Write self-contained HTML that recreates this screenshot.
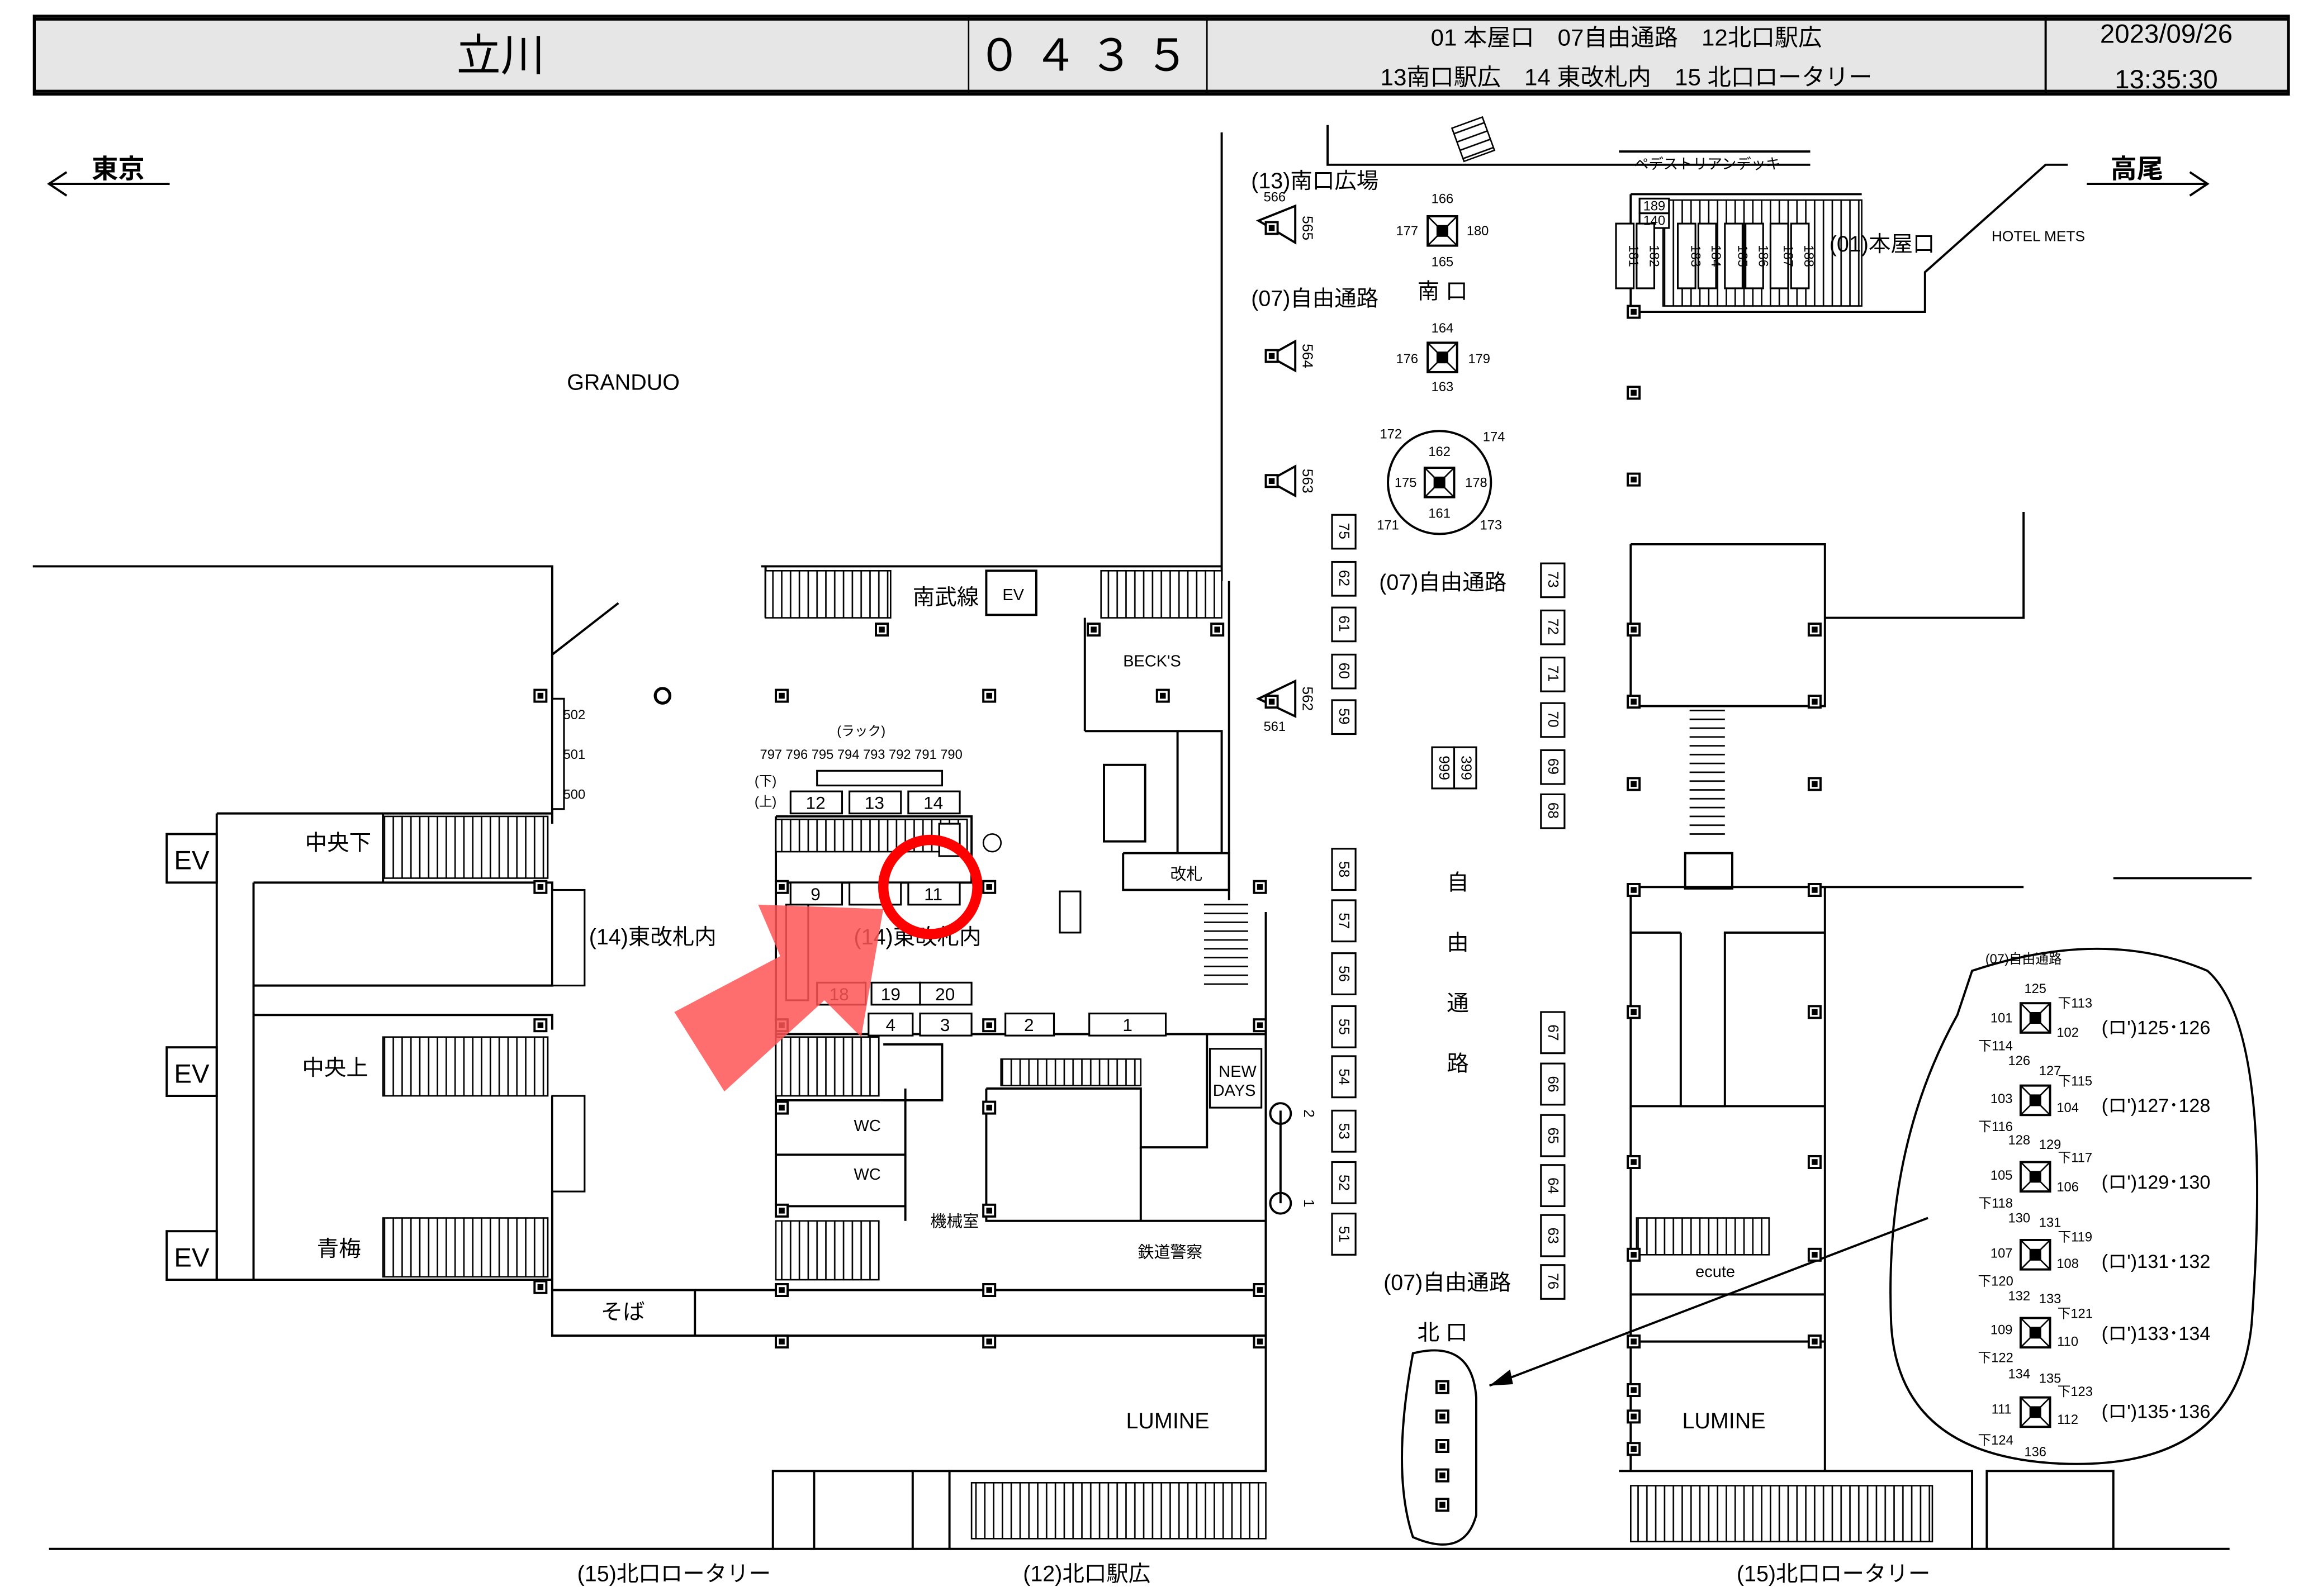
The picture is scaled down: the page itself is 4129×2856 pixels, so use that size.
<!DOCTYPE html>
<html><head><meta charset="utf-8">
<style>
html,body{margin:0;padding:0;background:#fff;}
svg{display:block;}
text{font-family:"Liberation Sans","Noto Sans CJK JP",sans-serif;fill:#000;}
</style></head>
<body>
<svg width="4129" height="2856" viewBox="0 0 1568 1085" xmlns="http://www.w3.org/2000/svg">
<defs>
<pattern id="st" width="6" height="10" patternUnits="userSpaceOnUse"><rect width="6" height="10" fill="#fff"/><line x1="3" y1="0" x2="3" y2="10" stroke="#000" stroke-width="1"/></pattern>
<pattern id="sth" width="10" height="6" patternUnits="userSpaceOnUse"><rect width="10" height="6" fill="#fff"/><line x1="0" y1="3" x2="10" y2="3" stroke="#000" stroke-width="1"/></pattern>
<g id="sq"><rect x="-4" y="-4" width="8" height="8" fill="#fff" stroke="#000" stroke-width="1.5"/><rect x="-2" y="-2" width="4" height="4" fill="#000"/></g>
<g id="gate"><rect x="-10" y="-10" width="20" height="20" fill="#fff" stroke="#000" stroke-width="1.5"/><line x1="-10" y1="-10" x2="10" y2="10" stroke="#000"/><line x1="10" y1="-10" x2="-10" y2="10" stroke="#000"/><rect x="-4" y="-4" width="8" height="8" fill="#000"/></g>
</defs>
<rect width="1568" height="1085" fill="#fff"/>
<!-- header -->
<rect x="23" y="11" width="1532" height="53" fill="#e6e6e6" stroke="#000" stroke-width="2"/>
<line x1="23" y1="13" x2="1555" y2="13" stroke="#000" stroke-width="2"/>
<line x1="23" y1="62" x2="1555" y2="62" stroke="#000" stroke-width="2"/>
<line x1="658" y1="11" x2="658" y2="64" stroke="#000"/>
<line x1="820" y1="11" x2="820" y2="64" stroke="#000"/>
<line x1="1390" y1="11" x2="1390" y2="64" stroke="#000" stroke-width="1.5"/>
<text x="340" y="48" font-size="30" text-anchor="middle">立川</text>
<text x="740" y="48" font-size="30" text-anchor="middle" letter-spacing="8">０４３５</text>
<text x="1105" y="31" font-size="16" text-anchor="middle">01 本屋口　07自由通路　12北口駅広</text>
<text x="1105" y="58" font-size="16" text-anchor="middle">13南口駅広　14 東改札内　15 北口ロータリー</text>
<text x="1472" y="29" font-size="18" text-anchor="middle">2023/09/26</text>
<text x="1472" y="60" font-size="18" text-anchor="middle">13:35:30</text>

<!-- direction arrows -->
<g stroke="#000" stroke-width="1.5" fill="none">
<line x1="33" y1="125" x2="115" y2="125"/><polyline points="45,117 33,125 45,133"/>
<line x1="1418" y1="125" x2="1500" y2="125"/><polyline points="1488,117 1500,125 1488,133"/>
</g>
<text x="80" y="121" font-size="18" text-anchor="middle" font-weight="bold">東京</text>
<text x="1452" y="121" font-size="18" text-anchor="middle" font-weight="bold">高尾</text>

<g stroke="#000" stroke-width="1.5" fill="none">
<polyline points="902,85 902,112 1230,112"/>
<line x1="1100" y1="103" x2="1230" y2="103"/>
<line x1="830" y1="90" x2="830" y2="395"/>
<line x1="835" y1="395" x2="835" y2="620"/>
<polyline points="1108,132 1265,132"/><polyline points="1108,212 1308,212 1308,185 1390,112 1405,112"/>
<line x1="1108" y1="132" x2="1108" y2="212"/>
<polyline points="1108,370 1240,370 1240,480 1108,480 1108,370"/>
<polyline points="1375,348 1375,420 1240,420"/>
<polyline points="1108,603 1240,603 1240,1000"/>
<polyline points="1108,603 1108,1000"/>
<line x1="1240" y1="603" x2="1375" y2="603"/>
<line x1="1436" y1="597" x2="1530" y2="597"/>
<line x1="1108" y1="634" x2="1142" y2="634"/>
<polyline points="1142,634 1142,752 1172,752 1172,634 1240,634"/>
<line x1="1108" y1="752" x2="1240" y2="752"/>
<line x1="1108" y1="912" x2="1240" y2="912"/>
<line x1="1108" y1="880" x2="1240" y2="880"/>
<rect x="1145" y="580" width="32" height="24"/>
<polyline points="22,385 375,385 375,445 420,410"/>
<line x1="375" y1="445" x2="375" y2="560"/>
<polyline points="260,553 375,553"/>
<polyline points="260,553 260,600"/>
<polyline points="147,553 147,870"/>
<polyline points="172,600 172,690"/>
<polyline points="172,600 375,600 375,670 172,670"/>
<polyline points="172,690 375,690 375,700"/>
<polyline points="147,553 260,553"/>
<polyline points="172,870 375,870 375,908 860,908 860,690"/>
<polyline points="172,690 172,870"/>
<line x1="147" y1="870" x2="172" y2="870"/>
<rect x="113" y="567" width="34" height="33"/>
<rect x="113" y="712" width="34" height="33"/>
<rect x="113" y="837" width="34" height="33"/>
<line x1="375" y1="745" x2="375" y2="870"/>
<line x1="472" y1="877" x2="472" y2="908"/>
<line x1="375" y1="877" x2="860" y2="877"/>
<polyline points="517,385 830,385"/>
<line x1="520" y1="385" x2="520" y2="420"/>
<line x1="737" y1="420" x2="737" y2="497"/>
<polyline points="737,497 830,497 830,580"/>
<polyline points="763,580 835,580 835,605 763,605 763,580"/>
<line x1="800" y1="497" x2="800" y2="580"/>
<rect x="750" y="520" width="28" height="52"/>
<rect x="670" y="388" width="34" height="30"/>
<polyline points="527,555 660,555 660,600"/>
<line x1="527" y1="600" x2="670" y2="600"/>
<line x1="527" y1="555" x2="527" y2="820"/>
<line x1="527" y1="703" x2="860" y2="703"/>
<line x1="527" y1="748" x2="615" y2="748"/>
<line x1="527" y1="785" x2="615" y2="785"/>
<line x1="527" y1="820" x2="615" y2="820"/>
<line x1="615" y1="740" x2="615" y2="830"/>
<polyline points="600,710 640,710 640,748 600,748"/>
<polyline points="670,740 775,740 775,780 820,780 820,703"/>
<polyline points="670,740 670,830 860,830"/>
<line x1="775" y1="780" x2="775" y2="830"/>
<polyline points="860,620 860,1000 645,1000 645,1053"/>
<polyline points="645,1000 620,1000 620,1053"/>
<polyline points="525,1053 525,1000 620,1000"/>
<polyline points="553,1000 553,1053"/>
<polyline points="1100,1000 1340,1000 1340,1053"/>
<polyline points="1350,1053 1350,1000 1436,1000 1436,1053"/>
<line x1="33" y1="1053" x2="1515" y2="1053"/>
<line x1="870" y1="755" x2="870" y2="818"/>
<path d="M960,920 Q1000,910 1003,950 L1003,1030 Q995,1060 960,1045 Q945,1000 960,920 Z"/>
<path d="M1340,660 Q1430,630 1500,660 Q1545,700 1530,900 Q1520,1000 1400,995 Q1290,990 1285,900 Q1280,780 1330,690 Z"/>
<line x1="1310" y1="828" x2="1012" y2="942"/>
</g>
<polygon points="1012,942 1026,931 1028,941" fill="#000"/>
<rect x="990" y="83" width="22" height="24" fill="url(#sth)" stroke="#000" transform="rotate(-20 1000 95)"/>
<text x="1160" y="115" font-size="10" text-anchor="middle">ペデストリアンデッキ</text>
<text x="1385" y="164" font-size="10" text-anchor="middle">HOTEL METS</text>

<g stroke="#000" stroke-width="1">
<rect x="520" y="388" width="85" height="32" fill="url(#st)"/>
<rect x="748" y="388" width="82" height="32" fill="url(#st)"/>
<rect x="260" y="555" width="112" height="42" fill="url(#st)"/>
<rect x="260" y="705" width="112" height="40" fill="url(#st)"/>
<rect x="260" y="828" width="112" height="40" fill="url(#st)"/>
<rect x="527" y="557" width="130" height="22" fill="url(#st)"/>
<rect x="527" y="705" width="70" height="40" fill="url(#st)"/>
<rect x="527" y="830" width="70" height="40" fill="url(#st)"/>
<rect x="680" y="720" width="95" height="18" fill="url(#st)"/>
<rect x="1112" y="828" width="90" height="25" fill="url(#st)"/>
<rect x="660" y="1008" width="200" height="38" fill="url(#st)"/>
<rect x="1108" y="1010" width="205" height="38" fill="url(#st)"/>
<rect x="1130" y="136" width="135" height="72" fill="url(#st)"/>
<rect x="818" y="612" width="30" height="60" fill="url(#sth)" stroke="none"/>
<rect x="1148" y="482" width="24" height="90" fill="url(#sth)" stroke="none"/>
</g>
<!-- top right gates -->
<g stroke="#000" stroke-width="1.2" fill="#fff">
<rect x="1114" y="135" width="20" height="10"/><rect x="1114" y="145" width="20" height="10"/>
<rect x="1098" y="152" width="12" height="44"/><rect x="1112" y="152" width="12" height="44"/>
<rect x="1140" y="152" width="12" height="44"/><rect x="1154" y="152" width="12" height="44"/>
<rect x="1172" y="152" width="12" height="44"/><rect x="1186" y="152" width="12" height="44"/>
<rect x="1203" y="152" width="12" height="44"/><rect x="1217" y="152" width="12" height="44"/>
</g>
<g font-size="9" text-anchor="middle">
<text x="1124" y="143">189</text><text x="1124" y="153">140</text>
<text transform="translate(1107,174) rotate(90)">181</text><text transform="translate(1121,174) rotate(90)">182</text>
<text transform="translate(1149,174) rotate(90)">183</text><text transform="translate(1163,174) rotate(90)">184</text>
<text transform="translate(1181,174) rotate(90)">185</text><text transform="translate(1195,174) rotate(90)">186</text>
<text transform="translate(1212,174) rotate(90)">187</text><text transform="translate(1226,174) rotate(90)">188</text>
</g>

<g stroke="#000" stroke-width="1.2" fill="#fff">
<rect x="537" y="538" width="35" height="15"/><rect x="577" y="538" width="35" height="15"/><rect x="617" y="538" width="35" height="15"/>
<rect x="537" y="600" width="35" height="15"/><rect x="577" y="600" width="35" height="15"/><rect x="617" y="600" width="35" height="15"/>
<rect x="555" y="668" width="33" height="15"/><rect x="592" y="668" width="33" height="15"/><rect x="625" y="668" width="35" height="15"/>
<rect x="590" y="689" width="30" height="15"/><rect x="625" y="689" width="35" height="15"/>
<rect x="683" y="689" width="33" height="15"/><rect x="740" y="689" width="52" height="15"/>
<rect x="534" y="615" width="15" height="65"/>
<rect x="555" y="524" width="85" height="10"/>
<rect x="375" y="475" width="8" height="75"/>
<rect x="375" y="605" width="22" height="65"/><rect x="375" y="745" width="22" height="65"/>
<rect x="638" y="560" width="14" height="22"/>
<rect x="720" y="606" width="14" height="28"/>
<rect x="822" y="713" width="35" height="40"/>
<rect x="973" y="508" width="15" height="28"/><rect x="988" y="508" width="15" height="28"/>
</g>
<!-- column boxes -->
<g stroke="#000" stroke-width="1.2" fill="#fff">
<rect x="905" y="350" width="16" height="23"/><rect x="905" y="382" width="16" height="23"/><rect x="905" y="413" width="16" height="23"/><rect x="905" y="445" width="16" height="23"/><rect x="905" y="476" width="16" height="23"/>
<rect x="905" y="577" width="16" height="28"/><rect x="905" y="612" width="16" height="28"/><rect x="905" y="648" width="16" height="28"/><rect x="905" y="684" width="16" height="28"/><rect x="905" y="718" width="16" height="28"/><rect x="905" y="755" width="16" height="28"/><rect x="905" y="790" width="16" height="28"/><rect x="905" y="825" width="16" height="28"/>
<rect x="1047" y="383" width="16" height="23"/><rect x="1047" y="415" width="16" height="23"/><rect x="1047" y="447" width="16" height="23"/><rect x="1047" y="478" width="16" height="23"/><rect x="1047" y="510" width="16" height="23"/><rect x="1047" y="540" width="16" height="23"/>
<rect x="1047" y="688" width="16" height="28"/><rect x="1047" y="723" width="16" height="28"/><rect x="1047" y="758" width="16" height="28"/><rect x="1047" y="792" width="16" height="28"/><rect x="1047" y="826" width="16" height="28"/><rect x="1047" y="860" width="16" height="23"/>
</g>
<g font-size="10" text-anchor="middle">
<text transform="translate(910,361) rotate(90)">75</text><text transform="translate(910,393) rotate(90)">62</text><text transform="translate(910,424) rotate(90)">61</text><text transform="translate(910,456) rotate(90)">60</text><text transform="translate(910,487) rotate(90)">59</text>
<text transform="translate(910,591) rotate(90)">58</text><text transform="translate(910,626) rotate(90)">57</text><text transform="translate(910,662) rotate(90)">56</text><text transform="translate(910,698) rotate(90)">55</text><text transform="translate(910,732) rotate(90)">54</text><text transform="translate(910,769) rotate(90)">53</text><text transform="translate(910,804) rotate(90)">52</text><text transform="translate(910,839) rotate(90)">51</text>
<text transform="translate(1052,394) rotate(90)">73</text><text transform="translate(1052,426) rotate(90)">72</text><text transform="translate(1052,458) rotate(90)">71</text><text transform="translate(1052,489) rotate(90)">70</text><text transform="translate(1052,521) rotate(90)">69</text><text transform="translate(1052,551) rotate(90)">68</text>
<text transform="translate(1052,702) rotate(90)">67</text><text transform="translate(1052,737) rotate(90)">66</text><text transform="translate(1052,772) rotate(90)">65</text><text transform="translate(1052,806) rotate(90)">64</text><text transform="translate(1052,840) rotate(90)">63</text><text transform="translate(1052,871) rotate(90)">76</text>
<text transform="translate(978,522) rotate(90)">999</text><text transform="translate(993,522) rotate(90)">399</text>
<text transform="translate(885,155) rotate(90)">565</text><text transform="translate(885,242) rotate(90)">564</text><text transform="translate(885,327) rotate(90)">563</text><text transform="translate(885,475) rotate(90)">562</text>
<text transform="translate(886,757) rotate(90)">2</text><text transform="translate(886,818) rotate(90)">1</text>
</g>
<g font-size="12" text-anchor="middle">
<text x="554" y="550">12</text><text x="594" y="550">13</text><text x="634" y="550">14</text>
<text x="554" y="612">9</text><text x="634" y="612">11</text>
<text x="570" y="680">18</text><text x="605" y="680">19</text><text x="642" y="680">20</text>
<text x="605" y="701">4</text><text x="642" y="701">3</text><text x="699" y="701">2</text><text x="766" y="701">1</text>
</g>
<g fill="#fff" stroke="#000" stroke-width="1.5">
<circle cx="978" cy="328" r="35"/>
</g>
<g font-size="9" text-anchor="middle">
<text x="585" y="500">(ラック)</text>
<text x="585" y="516">797  796 795  794 793  792 791  790</text>
<text x="520" y="534">(下)</text><text x="520" y="548">(上)</text>
<text x="390" y="489">502</text><text x="390" y="516">501</text><text x="390" y="543">500</text>
<text x="866" y="137">566</text><text x="866" y="497">561</text>
<text x="980" y="138">166</text><text x="980" y="181">165</text><text x="956" y="160">177</text><text x="1004" y="160">180</text>
<text x="980" y="226">164</text><text x="980" y="266">163</text><text x="956" y="247">176</text><text x="1005" y="247">179</text>
<text x="978" y="310">162</text><text x="978" y="352">161</text><text x="955" y="331">175</text><text x="1003" y="331">178</text>
<text x="945" y="298">172</text><text x="1015" y="300">174</text><text x="943" y="360">171</text><text x="1013" y="360">173</text>
<text x="1375" y="655">(07)自由通路</text>
</g>
<use href="#gate" x="980" y="157"/><use href="#gate" x="980" y="243"/><use href="#gate" x="978" y="328"/>
<g>
<use href="#gate" x="1383" y="692"/><use href="#gate" x="1383" y="748"/><use href="#gate" x="1383" y="800"/>
<use href="#gate" x="1383" y="853"/><use href="#gate" x="1383" y="906"/><use href="#gate" x="1383" y="960"/>
</g>
<g font-size="9" text-anchor="middle">
<text x="1383" y="675">125</text><text x="1360" y="695">101</text><text x="1405" y="705">102</text><text x="1410" y="685">下113</text><text x="1356" y="714">下114</text>
<text x="1372" y="724">126</text><text x="1393" y="731">127</text><text x="1360" y="750">103</text><text x="1405" y="756">104</text><text x="1410" y="738">下115</text><text x="1356" y="769">下116</text>
<text x="1372" y="778">128</text><text x="1393" y="781">129</text><text x="1360" y="802">105</text><text x="1405" y="810">106</text><text x="1410" y="790">下117</text><text x="1356" y="821">下118</text>
<text x="1372" y="831">130</text><text x="1393" y="834">131</text><text x="1360" y="855">107</text><text x="1405" y="862">108</text><text x="1410" y="844">下119</text><text x="1356" y="874">下120</text>
<text x="1372" y="884">132</text><text x="1393" y="886">133</text><text x="1360" y="907">109</text><text x="1405" y="915">110</text><text x="1410" y="896">下121</text><text x="1356" y="926">下122</text>
<text x="1372" y="937">134</text><text x="1393" y="940">135</text><text x="1360" y="961">111</text><text x="1405" y="968">112</text><text x="1410" y="949">下123</text><text x="1356" y="982">下124</text><text x="1383" y="990">136</text>
</g>
<g font-size="13">
<text x="1428" y="703">(ロ')125･126</text><text x="1428" y="756">(ロ')127･128</text><text x="1428" y="808">(ロ')129･130</text>
<text x="1428" y="862">(ロ')131･132</text><text x="1428" y="911">(ロ')133･134</text><text x="1428" y="964">(ロ')135･136</text>
</g>
<g fill="#fff" stroke="#000" stroke-width="1.5">
<polygon points="855,150 880,140 880,165"/><polygon points="862,242 880,232 880,252"/>
<polygon points="862,327 880,317 880,337"/><polygon points="855,475 880,463 880,487"/>
</g>
<g>
<use href="#sq" x="864" y="155"/><use href="#sq" x="864" y="242"/><use href="#sq" x="864" y="327"/><use href="#sq" x="864" y="477"/>
<use href="#sq" x="367" y="473"/><use href="#sq" x="367" y="603"/><use href="#sq" x="367" y="697"/><use href="#sq" x="367" y="875"/>
<use href="#sq" x="531" y="473"/><use href="#sq" x="672" y="473"/><use href="#sq" x="790" y="473"/>
<use href="#sq" x="531" y="603"/><use href="#sq" x="672" y="603"/><use href="#sq" x="856" y="603"/>
<use href="#sq" x="531" y="697"/><use href="#sq" x="672" y="697"/><use href="#sq" x="856" y="697"/>
<use href="#sq" x="531" y="753"/><use href="#sq" x="672" y="753"/>
<use href="#sq" x="531" y="823"/><use href="#sq" x="672" y="823"/>
<use href="#sq" x="531" y="877"/><use href="#sq" x="672" y="877"/><use href="#sq" x="856" y="877"/>
<use href="#sq" x="531" y="912"/><use href="#sq" x="672" y="912"/><use href="#sq" x="856" y="912"/>
<use href="#sq" x="599" y="428"/><use href="#sq" x="743" y="428"/><use href="#sq" x="827" y="428"/>
<use href="#sq" x="1110" y="212"/><use href="#sq" x="1110" y="267"/><use href="#sq" x="1110" y="326"/>
<use href="#sq" x="1110" y="428"/><use href="#sq" x="1233" y="428"/><use href="#sq" x="1110" y="477"/><use href="#sq" x="1233" y="477"/>
<use href="#sq" x="1110" y="533"/><use href="#sq" x="1233" y="533"/><use href="#sq" x="1110" y="605"/><use href="#sq" x="1233" y="605"/>
<use href="#sq" x="1110" y="688"/><use href="#sq" x="1233" y="688"/><use href="#sq" x="1110" y="790"/><use href="#sq" x="1233" y="790"/>
<use href="#sq" x="1110" y="853"/><use href="#sq" x="1233" y="853"/><use href="#sq" x="1110" y="912"/><use href="#sq" x="1233" y="912"/>
<use href="#sq" x="1110" y="945"/><use href="#sq" x="1110" y="963"/><use href="#sq" x="1110" y="985"/>
<use href="#sq" x="980" y="943"/><use href="#sq" x="980" y="963"/><use href="#sq" x="980" y="983"/><use href="#sq" x="980" y="1003"/><use href="#sq" x="980" y="1023"/>
</g>
<circle cx="450" cy="473" r="5" fill="#fff" stroke="#000" stroke-width="2"/>
<circle cx="674" cy="573" r="6" fill="none" stroke="#000"/>
<circle cx="870" cy="757" r="7" fill="none" stroke="#000" stroke-width="1.5"/>
<circle cx="870" cy="818" r="7" fill="none" stroke="#000" stroke-width="1.5"/>

<g font-size="15">
<text x="385" y="265">GRANDUO</text>
<text x="620" y="411">南武線</text>
<text x="207" y="578">中央下</text><text x="205" y="731">中央上</text><text x="215" y="854">青梅</text>
<text x="400" y="642">(14)東改札内</text><text x="580" y="642">(14)東改札内</text>
<text x="408" y="897">そば</text>
<text x="765" y="971">LUMINE</text><text x="1143" y="971">LUMINE</text>
<text x="940" y="877">(07)自由通路</text><text x="937" y="401">(07)自由通路</text>
<text x="850" y="208">(07)自由通路</text><text x="850" y="128">(13)南口広場</text>
<text x="963" y="203">南 口</text><text x="963" y="911">北 口</text>
<text x="1243" y="171">(01)本屋口</text>
<text x="392" y="1075">(15)北口ロータリー</text><text x="695" y="1075">(12)北口駅広</text><text x="1180" y="1075">(15)北口ロータリー</text>
<text x="983" y="605">自</text><text x="983" y="646">由</text><text x="983" y="687">通</text><text x="983" y="728">路</text>
</g>
<g font-size="11">
<text x="763" y="453">BECK'S</text><text x="795" y="598">改札</text>
<text x="828" y="732">NEW</text><text x="824" y="745">DAYS</text>
<text x="580" y="769">WC</text><text x="580" y="802">WC</text>
<text x="632" y="834">機械室</text><text x="773" y="855">鉄道警察</text>
<text x="1152" y="868">ecute</text><text x="681" y="408">EV</text>
</g>
<g font-size="18"><text x="118" y="591">EV</text><text x="118" y="736">EV</text><text x="118" y="861">EV</text></g>

<circle cx="632" cy="603" r="32" fill="none" stroke="#f00" stroke-width="7"/>
<polygon points="458,688 530,650 515,615 600,618 585,705 560,680 492,742" fill="#f55" opacity="0.85"/>
</svg>
</body></html>
